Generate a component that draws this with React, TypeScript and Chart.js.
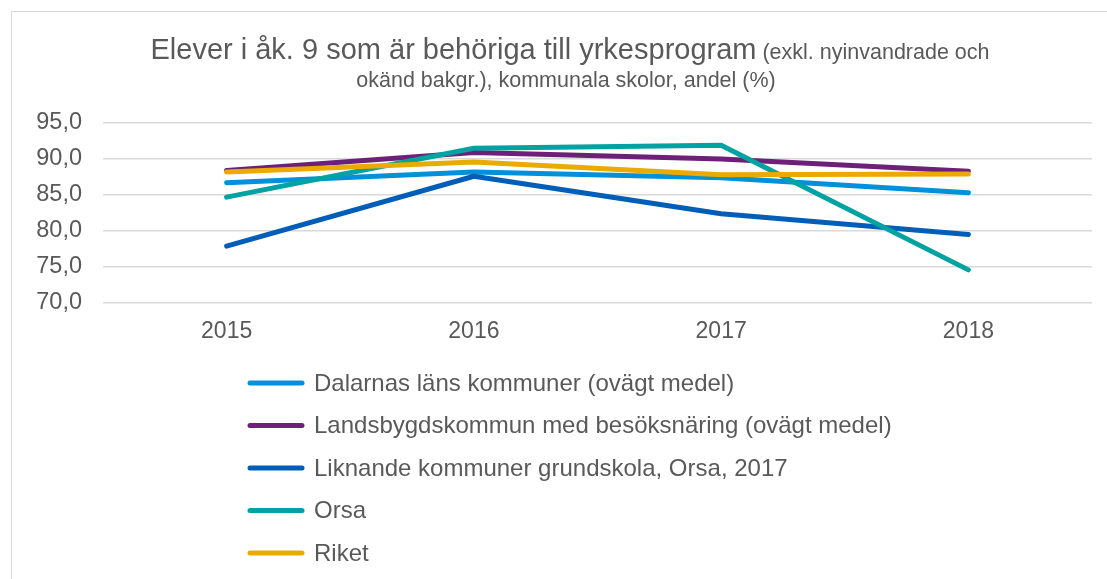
import React, { useEffect, useRef } from "react";
import { Chart, registerables } from "chart.js";

Chart.register(...registerables);

const years = ["2015", "2016", "2017", "2018"];
const seriesNames = [
  "Dalarnas läns kommuner (ovägt medel)",
  "Landsbygdskommun med besöksnäring (ovägt medel)",
  "Liknande kommuner grundskola, Orsa, 2017",
  "Orsa",
  "Riket",
];
const dalarna = [86.7, 88.2, 87.4, 85.3];
const landsbygd = [88.4, 90.9, 90.0, 88.3];
const liknande = [77.9, 87.6, 82.4, 79.5];
const orsa = [84.7, 91.5, 91.9, 74.6];
const riket = [88.2, 89.6, 87.8, 87.9];
const seriesValues = [dalarna, landsbygd, liknande, orsa, riket];
const seriesColors = ["#0091DA", "#6D2077", "#005EB8", "#00A3A1", "#EAAA00"];
const yTicks = [70, 75, 80, 85, 90, 95];

const titleMain = "Elever i åk. 9 som är behöriga till yrkesprogram";
const titleSub1 = " (exkl. nyinvandrade och";
const titleSub2 = "okänd bakgr.), kommunala skolor, andel (%)";

const FONT = "'Liberation Sans', Arial, sans-serif";
const TEXT = "#595959";

const decorPlugin = {
  id: "decor",
  beforeDraw(chart: any) {
    const ctx = chart.ctx;
    ctx.save();
    ctx.strokeStyle = "#d9d9d9";
    ctx.lineWidth = 1;
    ctx.strokeRect(11.5, 11.5, 1300, 800);
    ctx.restore();
  },
  afterDraw(chart: any) {
    const ctx = chart.ctx;
    ctx.save();
    ctx.fillStyle = TEXT;
    ctx.textBaseline = "alphabetic";
    ctx.textAlign = "left";
    const bigFont = `29px ${FONT}`;
    const smallFont = `21.5px ${FONT}`;
    ctx.font = bigFont;
    const w1 = ctx.measureText(titleMain).width;
    ctx.font = smallFont;
    const w2 = ctx.measureText(titleSub1).width;
    const cx1 = 570;
    const x = cx1 - (w1 + w2) / 2;
    ctx.font = bigFont;
    ctx.fillText(titleMain, x, 59);
    ctx.font = smallFont;
    ctx.fillText(titleSub1, x + w1, 59);
    ctx.textAlign = "center";
    ctx.fillText(titleSub2, 566, 86.5);

    const rowY = [383, 425.5, 468, 510.5, 553];
    ctx.textAlign = "left";
    ctx.textBaseline = "middle";
    ctx.font = `24px ${FONT}`;
    chart.data.datasets.forEach((ds: any, i: number) => {
      const y = rowY[i];
      ctx.strokeStyle = ds.borderColor;
      ctx.lineWidth = 5;
      ctx.lineCap = "round";
      ctx.beginPath();
      ctx.moveTo(250, y);
      ctx.lineTo(302, y);
      ctx.stroke();
      ctx.fillStyle = TEXT;
      ctx.fillText(ds.label, 314, y + 1);
    });
    ctx.restore();
  },
};

export default function App() {
  const ref = useRef<HTMLCanvasElement | null>(null);
  useEffect(() => {
    if (!ref.current) return;
    const chart = new Chart(ref.current, {
      type: "line",
      data: {
        labels: years,
        datasets: seriesNames.map((name, i) => ({
          label: name,
          data: seriesValues[i],
          borderColor: seriesColors[i],
          backgroundColor: seriesColors[i],
          borderWidth: 5,
          borderCapStyle: "round",
          borderJoinStyle: "round",
          pointRadius: 0,
          tension: 0,
          fill: false,
          order: seriesNames.length - i,
        })),
      },
      options: {
        responsive: false,
        animation: false,
        devicePixelRatio: 1,
        layout: { padding: { left: 0, right: 15, top: 123, bottom: 0 } },
        plugins: {
          legend: { display: false },
          title: { display: false },
          tooltip: { enabled: false },
        },
        scales: {
          x: {
            offset: true,
            grid: { display: false, drawTicks: false },
            border: { display: false },
            ticks: {
              color: TEXT,
              font: { family: FONT, size: 23 },
              padding: 15,
              maxRotation: 0,
            },
            afterFit(scale: any) {
              scale.height = 276;
            },
          },
          y: {
            min: yTicks[0],
            max: yTicks[yTicks.length - 1],
            afterBuildTicks(scale: any) {
              scale.ticks = yTicks.map((v) => ({ value: v }));
            },
            grid: { color: "#d9d9d9", lineWidth: 1.5, drawTicks: false },
            border: { display: false },
            ticks: {
              color: TEXT,
              font: { family: FONT, size: 23.5 },
              padding: 21,
              callback: (v: any) => Number(v).toFixed(1).replace(".", ","),
            },
            afterFit(scale: any) {
              scale.width = 103;
            },
          },
        },
      },
      plugins: [decorPlugin],
    } as any);
    return () => chart.destroy();
  }, []);
  return (
    <div style={{ position: "fixed", left: 0, top: 0, width: 1107, height: 579, background: "#fff" }}>
      <canvas ref={ref} width={1107} height={579} />
    </div>
  );
}
